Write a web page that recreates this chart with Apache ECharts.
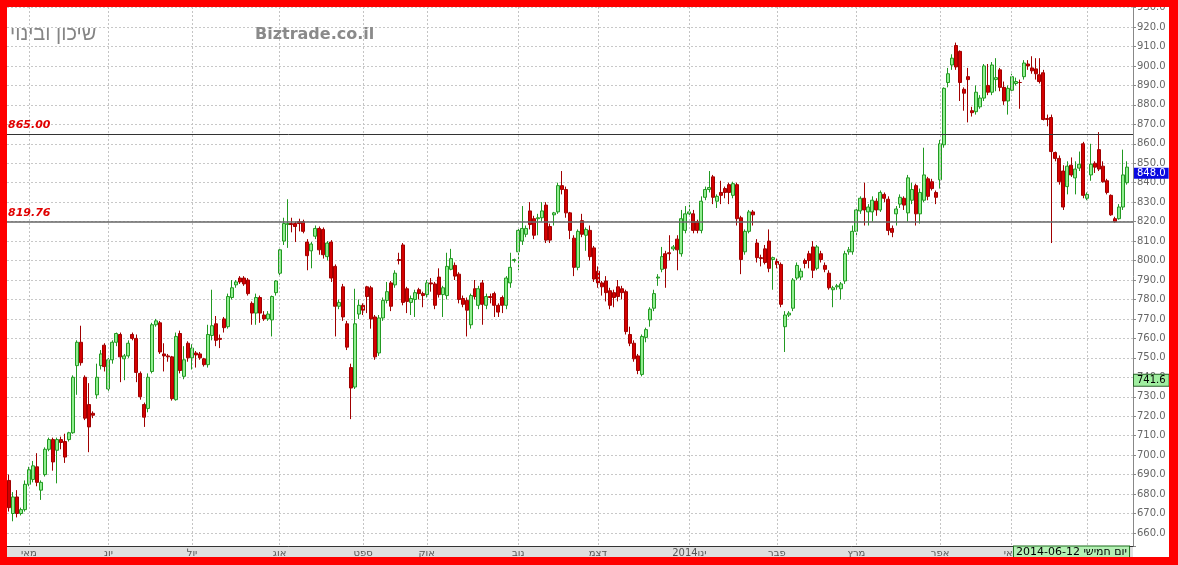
<!DOCTYPE html>
<html><head><meta charset="utf-8">
<script src="https://cdn.jsdelivr.net/npm/echarts@6/dist/echarts.min.js"></script>
<style>
html,body{margin:0;padding:0;background:#ff0000;width:1178px;height:565px;overflow:hidden;}
#wrap{position:absolute;left:7px;top:7px;width:1162px;height:550px;overflow:hidden;background:#fff;}
#chart{position:absolute;left:-7px;top:-7px;width:1178px;height:565px;}
</style></head><body><div id="wrap"><div id="chart"></div></div>
<script>
// ---- data ----
const monthLabels = ['מאי','יונ','יול','אוג','ספט','אוק','נוב','דצמ','2014ינו','פבר','מרץ','אפר','מאי','יונ'];
const monthStartIdx = [5,25,46,68,89,105,128,148,171,193,213,234,252,271];
const levelLines = [865, 819.76];
const lastPrice = 848.0;
const cursorPrice = 741.6;
const cursorLabel = '2014-06-12 יום חמישי';
const titleText = 'שיכון ובינוי';
const siteText = 'Biztrade.co.il';

const opens = [687,670,678.5,670,672,685,687.5,694,682,690,
703,708,702.5,708,707,708,711.5,746,758,740,
726,721.5,731,746,756.5,734,749,758,762,749.5,
751,762,760,742,726,724,743,767,768,752,
751,750.5,728.5,762.5,740.5,757.5,750,752.5,752,749.5,
746.5,761.5,767.5,760,770,766,781,787.5,791,791,
790,778,773,781,772,770,769.5,783.5,793.5,810,
818.5,819,819,820,820,809.5,805,812.5,816.5,816,
802,809.5,797,776.5,786.5,767.5,745,735,772.5,777,
786.5,786,771,752.5,770.5,779.5,788.5,787.5,800.5,808,
785.5,778.5,780,785,783,782.5,788.5,788,791.5,782.5,
782,795.5,797.5,793,780.5,779.5,767,785.5,777,788.5,
777,781.5,783,777,781,777,788.5,800,804.5,810,
813.5,825.5,821.5,821.5,822,828.5,817.5,823.5,825,838.5,
836.5,824.5,811.5,796.5,820.5,813,815.5,806.5,794.5,788.5,
789.5,784.5,783.5,786.5,785.5,784,762,757.5,751,741.5,
760.5,769.5,775.5,791,795.5,803.5,804,806,811,803.5,
815.5,824,824,820,815.5,832.5,836.5,843,830.5,835,
837,839,833.5,839,822,804.5,815,825,809,801.5,
806,810,800.5,799.5,798,766,772,775.5,791,791.5,
800,803.5,807,796,803.5,797.5,793.5,785,786.5,785.5,
789.5,804.5,804.5,815,825.5,832,825,825,830.5,826,
834,831.5,816.5,824,829,832,824.5,831,838.5,824,
831,842,840.5,835,841.5,859.5,891.5,900.5,910.5,907.5,
888,894.5,877,876.5,879,883.5,890,886.5,893,898,
889,882,887.5,891,891.5,894.5,901,899,898.5,895.5,
896.5,873,873.5,855.5,852.5,846,838,849,842.5,847.5,
860,832,844,850,857,848.5,841,833.5,821.5,821.5,
827.5,840];
const closes = [673,678.5,670,672,685,692.5,694.5,686,686,703,
708,696.5,708,706.5,699,711.5,740,758,747.5,719,
714.5,720.5,740,752,745.5,749,758,762.5,750.5,751,
757.5,760,742.5,730,719.5,740,767,769,753,751,
750.5,729,761,743.5,749,750,755,751.5,750,746.5,
762,766.5,759,759.5,765.5,781.5,786,789,789,788,
783,773,781,773,770,772.5,781.5,789.5,805.5,819,
819,818.5,817.5,819,815,802.5,808.5,816.5,805.5,803,
809,791,776.5,778.5,771,755.5,734.5,767.5,777,774.5,
781.5,770,750.5,770.5,779.5,784,776.5,793.5,800,778.5,
779,780.5,783.5,783,782,788.5,788,777,782.5,786,
797,801,792,780,777.5,774.5,782,781.5,785.5,777.5,
781.5,781,777,773.5,777,791,796.5,800.5,815.5,816.5,
816.5,818.5,813,822,825.5,810.5,810.5,824.5,838.5,836.5,
824.5,815.5,796.5,815,813.5,816,802,790.5,788.5,786.5,
783.5,777,781,781.5,783.5,763.5,757.5,749.5,743.5,761,
764.5,775,783,791.5,802,796,803.5,807,805.5,821.5,
824,825,815.5,815.5,830.5,836.5,837.5,832.5,833,833.5,
835,835,839.5,821.5,800.5,815,825,823.5,801.5,801,
799,796,801.5,798,777.5,772,773,790,797.5,794.5,
798.5,800,795,807,800.5,795.5,786,786,787,788,
803.5,805.5,815,826,832,826,827.5,831,826,835,
832,815.5,814.5,826.5,832.5,828.5,842.5,836.5,824,835,
844,833,837,832.5,860,888.5,896,904,899.5,891.5,
886,893,876,886.5,883.5,900,886.5,900.5,894,889,
882,888.5,894.5,892,891.5,901.5,900,897.5,896,892,
872.5,872.5,856,852.5,840.5,827.5,848.5,844,847,849.5,
833.5,834,849.5,848,847,840.5,835,823.5,820,827.5,
844,848];
const lows = [671,666,668,669,671,684,686,684,677,689,
702,692,685.5,703,696,707,711,731,746,718,
701.5,719,729,744,743,733,747,756,737.5,738.5,
750,759,737.5,728.5,714.5,722,742,766,752,743,
748,728,728,742,739,748,744,745,749,745.5,
745,759,756,755,763,765,780,786,788,787,
782,767,767,768,769,769,761,782,792,808,
806.5,814.5,809.5,815,814,795,796,811,803,801,
800,789,761,775,769,754,718.5,734,770,772,
773,765,749,751,769,778,774,786,798,777,
773,772,771,780,776,781,784,775,781,771,
780,795,790,778,776,761,765,780,775,767,
775,778,771,771,773,775,786,799,795,808,
812,816,811,813,820,809,809,818,824,834,
822,811,792,795,812,805,800,789,786,782,
779,775,776,779,780,762,756,748,741.6,740.5,
758,766,774,787,794,786,800,805,795,802,
814,823,814,814,814,831,835,829,827,829,
832,829,832,818,793,803,814,818,799,797,
798,794,785,796,776,753,771,774,790,790,
796,796,791,795,799,794,785,776,785,780,
788,803,803,812,824,818,818,820,823,825,
830,813,812,818,827,826,820,829,818,819,
830,831,836,829,837,858,889,898,898,882,
877,871,874,875,878,882,885,885,887,887,
880,875,886,890,878,893,898,896,893,891,
872,869,809,851,839,826,834,843,834,846,
832,831,841,845,846,840,834,823,819.5,821,
826,839];
const highs = [690,681,682,673,687,694,697,701,687,704,
709,709,709,709.5,711,712,741,759,766.5,741,
737,722.5,747,754,757.5,750,759,763,763,752,
759,763,762,743,727,742,768,770,769,757.5,
752,751,763,764,756,758.5,757,753.5,753,750,
767,785,771.5,762,771,783,790,790,792,792,
791,779,783,782,774,774,782,790,807,822,
831.5,822,820,821.5,821,811,809.5,818,817.5,817,
810,810.5,798,780,788,769,747,785.5,780,778,
787,787,772,772,781,789,789.5,795,804,809,
786.5,782,785,786,784,790,791,789,796,787,
804,806,799,794,782,781,783,790,787,790,
783,783,784,778,782,792,804,801,816.5,828,
818,830,823,824,830,830,819,825,840,846,
838,825,813,816,824,817,818,807.5,797,789.5,
792,786,785,790,787,785,766,759,752,762,
765.5,776,785,793,807,805,813,808,813,826,
828,830,826,821,833,838,846,844,834,841,
838,840,840.5,840,823,816,826,826,811,803,
808,816,802,801,799,774,774,791,799,796,
801,805,810,808,805,799,795,787,788,789,
805,807,818,827,833,840,829,833,832,836,
835,833,818,828,834,833,844,840,839.5,837,
858,843,842,836,862,889,899,906,912,908,
889,899,879,890,885,901,901,902,904,899,
892,890,896,894,893,903,903,905,904,904,
898,875,875,856,854,849,851,853,851,856,
861,835,860,851,866,851,842,834,822.5,829,
857,851];

// ---- chart ----
const candles = opens.map((o, i) => [o, closes[i], lows[i], highs[i]]);
const categories = Array.from({length: opens.length + 1}, (_, i) => String(i));
const labelAt = {};
monthStartIdx.forEach((k, j) => { labelAt[k] = monthLabels[j]; });
const FONT = 'DejaVu Sans';
const CLEAR = 'rgba(0,0,0,0)';

const chart = echarts.init(document.getElementById('chart'), null, {renderer: 'canvas'});

const levelLabel = {
  show: true, position: 'insideStartTop', color: '#e00000', fontStyle: 'italic',
  fontWeight: 'bold', fontSize: 11, fontFamily: FONT, distance: [1, 3]
};
const sideLabel = {
  show: true, position: 'end', distance: 1, fontSize: 10, fontFamily: FONT, opacity: 1,
  padding: [1, 3, 0, 3], offset: [0, 6]
};

const option = {
  animation: false,
  backgroundColor: '#ffffff',
  title: [
    {text: titleText, left: 10, top: 24, padding: 0,
     textStyle: {fontFamily: 'Liberation Sans', fontSize: 20, fontWeight: 'normal', color: '#858585'}},
    {text: siteText, left: 255, top: 27, padding: 0,
     textStyle: {fontFamily: FONT, fontSize: 16, fontWeight: 'bold', color: '#8a8a8a'}}
  ],
  grid: {left: 7, right: 45, top: 7, bottom: 19, containLabel: false},
  xAxis: {
    type: 'category', data: categories, boundaryGap: true, z: 5,
    axisLine: {show: true, lineStyle: {color: '#333', width: 1}},
    axisTick: {show: false},
    axisLabel: {
      interval: (i) => labelAt[i] !== undefined,
      formatter: (v, i) => labelAt[i] || '',
      fontFamily: FONT, fontSize: 10, color: '#555', margin: 2
    },
    splitLine: {show: true, interval: (i) => labelAt[i] !== undefined, alignWithLabel: true,
      lineStyle: {color: '#c4c4c4', type: [2, 2], width: 1}}
  },
  yAxis: {
    type: 'value', position: 'right', min: 653.3, max: 930.3, splitNumber: 27,
    axisLine: {show: true, lineStyle: {color: '#888'}},
    axisTick: {show: true, length: 3, lineStyle: {color: '#888'}},
    axisLabel: {
      fontFamily: FONT, fontSize: 10, color: '#666', margin: 4,
      formatter: (v) => (Math.abs(v / 10 - Math.round(v / 10)) < 1e-6 ? v.toFixed(1) : '')
    },
    splitLine: {show: true, lineStyle: {color: '#c8c8c8', type: [2, 2], width: 1}}
  },
  series: [{
    type: 'candlestick', data: candles, barWidth: 3.5, clip: false,
    itemStyle: {color: '#90ee90', color0: '#d40000', borderColor: '#229922', borderColor0: '#a00000', borderWidth: 1},
    markLine: {
      symbol: ['none', 'none'], silent: true, animation: false,
      data: [
        {yAxis: levelLines[0], lineStyle: {color: '#333', width: 1, type: 'solid'},
         label: Object.assign({}, levelLabel, {formatter: levelLines[0].toFixed(2)})},
        {yAxis: levelLines[1], lineStyle: {color: '#666', width: 1.5, type: 'solid'},
         label: Object.assign({}, levelLabel, {formatter: levelLines[1].toFixed(2)})},
        {yAxis: lastPrice, lineStyle: {color: CLEAR, width: 1, opacity: 1},
         label: Object.assign({}, sideLabel, {formatter: lastPrice.toFixed(1), backgroundColor: '#0a0ae0', color: '#ffffff'})},
        {yAxis: cursorPrice, lineStyle: {color: CLEAR, width: 1, opacity: 1},
         label: Object.assign({}, sideLabel, {formatter: cursorPrice.toFixed(1), backgroundColor: '#a0eea0', color: '#000',
           borderColor: '#2a602a', borderWidth: 1})}
      ]
    }
  }]
};
chart.setOption(option);

const lastX = chart.convertToPixel({xAxisIndex: 0}, String(opens.length - 1));
chart.setOption({graphic: {elements: [
  {id: 'band', type: 'rect', z: -1, silent: true,
   shape: {x: 7, y: 546, width: 1126, height: 12}, style: {fill: '#e0e0e0'}},
  {id: 'cursor', type: 'text', z: 50, silent: true, x: lastX + 2, y: 552,
   style: {text: cursorLabel, font: '11px "DejaVu Sans"', fill: '#000', align: 'right', verticalAlign: 'middle',
     backgroundColor: '#b4f0b4', borderColor: '#1e6e1e', borderWidth: 1, padding: [0, 2, 0, 2]}}
]}});
</script></body></html>
